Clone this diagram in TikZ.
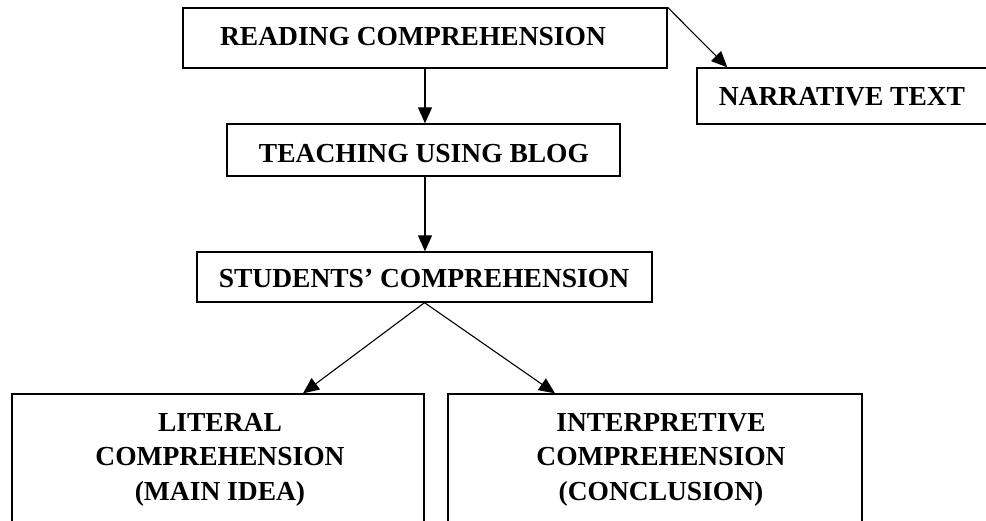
\documentclass[tikz,border=0pt]{standalone}
\usepackage{fontspec}
\setmainfont{Liberation Serif}
\usetikzlibrary{arrows.meta,calc}
\begin{document}
\begin{tikzpicture}[x=1pt,y=-1pt,
  box/.style={draw, line width=1.3pt, rectangle, inner sep=0pt},
  lbl/.style={font=\fontsize{27.5}{34.5}\selectfont\bfseries, inner sep=0pt, align=center},
  arr/.style={-{Triangle[length=16pt,width=14pt]}, line width=1.1pt}]
\clip (0,0) rectangle (986,520);
% boxes
\node[box, minimum width=484pt, minimum height=60pt] (read) at (425,38) {};
\node[box, minimum width=293pt, minimum height=56pt] (narr) at (843.5,96) {};
\node[box, minimum width=393pt, minimum height=52pt] (teach) at (423.5,150) {};
\node[box, minimum width=455pt, minimum height=50pt] (stud) at (424.5,277) {};
\node[box, minimum width=412pt, minimum height=140pt] (lit) at (218,464) {};
\node[box, minimum width=414pt, minimum height=140pt] (interp) at (655,464) {};
% labels
\node[lbl, anchor=base] (tread) at (413,45) {READING COMPREHENSION};
\node[lbl, anchor=base] (tnarr) at (842,105) {NARRATIVE TEXT};
\node[lbl, anchor=base] (tteach) at (424,162) {TEACHING USING BLOG};
\node[lbl, anchor=base] (tstud) at (424,287) {STUDENTS’ COMPREHENSION};
\node[lbl, anchor=north] (tlit) at (220,413) {LITERAL\\COMPREHENSION\\(MAIN IDEA)};
\node[lbl, anchor=north] (tinterp) at (661,413) {INTERPRETIVE\\COMPREHENSION\\(CONCLUSION)};
% connectors
\draw[arr] (read.south) -- (read.south |- teach.north);
\draw[arr] (read.south |- teach.south) -- (read.south |- stud.north);
\draw[arr] (read.north east) -- ($(narr.north west)+(31,0)$);
\draw[arr] (stud.south) -- ($(lit.north)+(85,0)$);
\draw[arr] (stud.south) -- ($(interp.north)+(-100,0)$);
\end{tikzpicture}
\end{document}
